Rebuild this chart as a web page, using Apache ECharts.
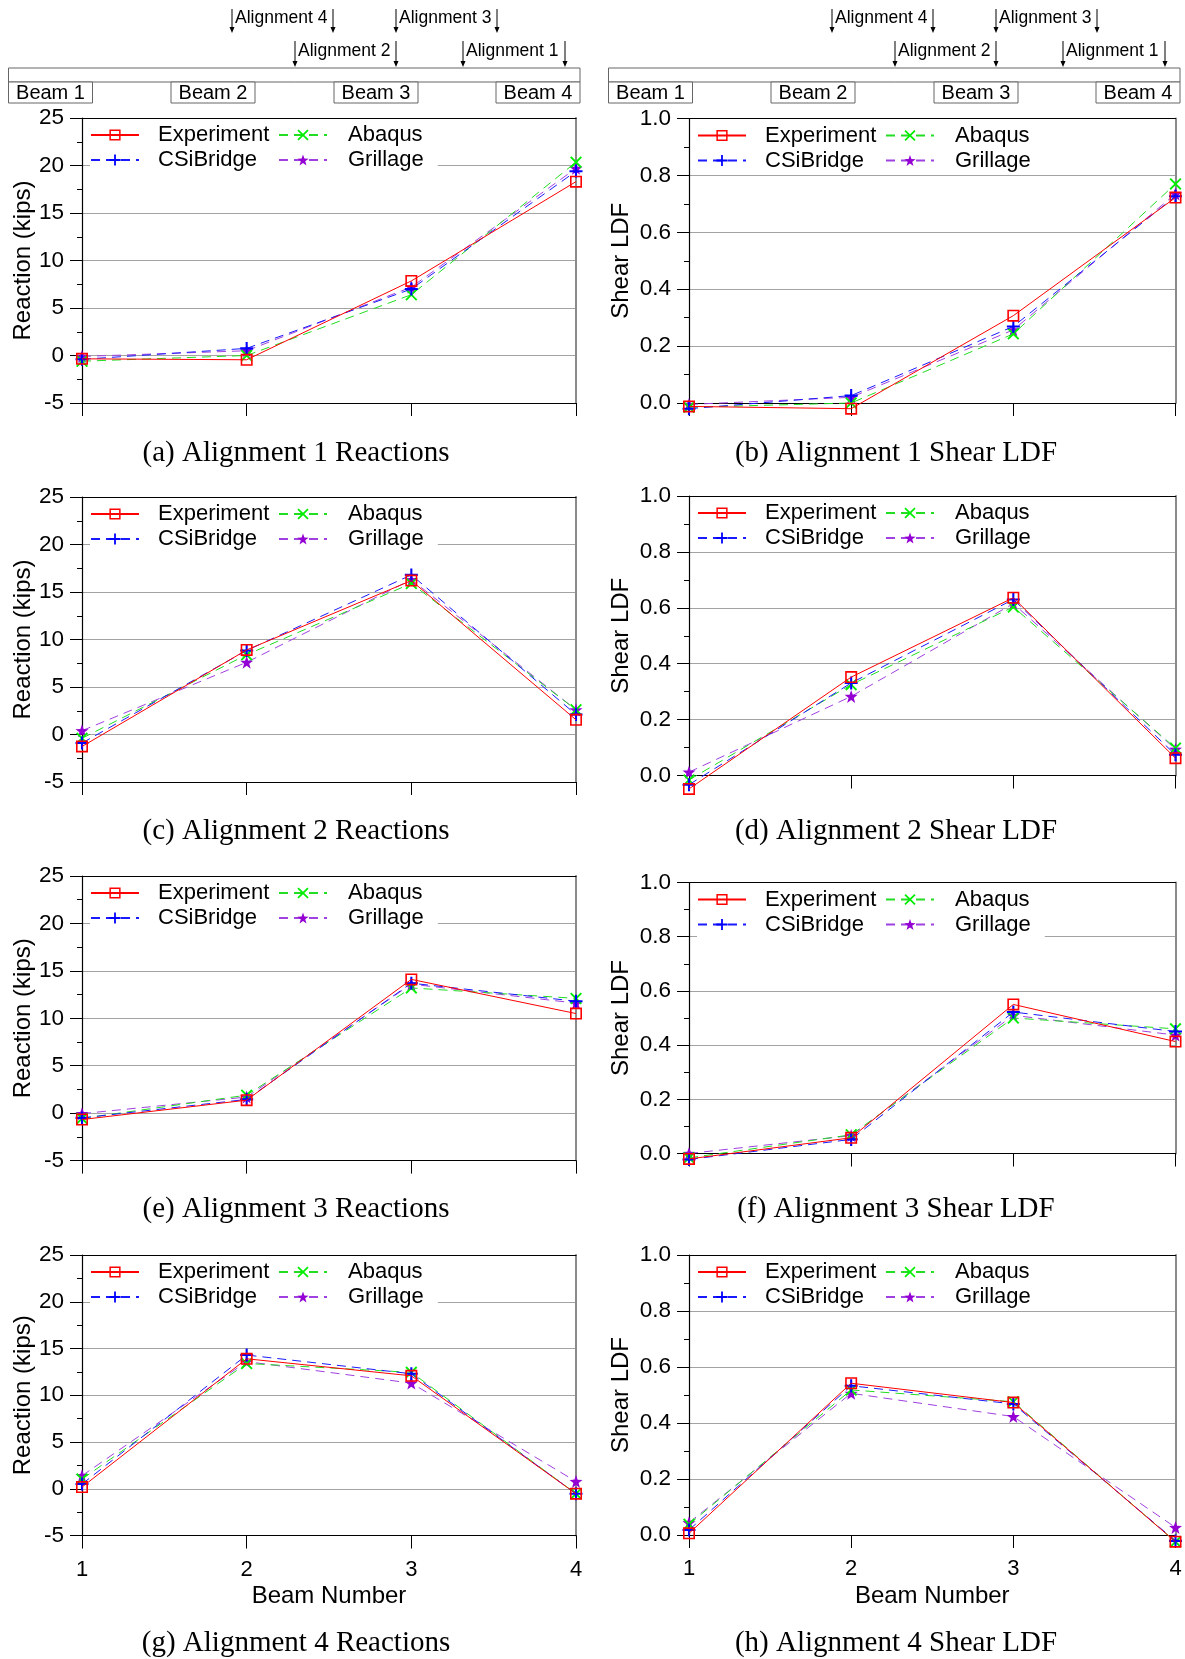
<!DOCTYPE html>
<html>
<head>
<meta charset="utf-8">
<script src="https://cdn.jsdelivr.net/npm/echarts@6/dist/echarts.min.js"></script>
<style>
  html, body { margin: 0; padding: 0; background: #fff; }
  #chart { width: 1185px; height: 1659px; }
</style>
</head>
<body>
<div id="chart"></div>
<script>
// Beam numbers along the x axis
const beams = ['1', '2', '3', '4'];

// Tick values of the two kinds of y axes
const reactionTicks = [-5, 0, 5, 10, 15, 20, 25];
const ldfTicks = [0.0, 0.2, 0.4, 0.6, 0.8, 1.0];

// Alignment 1
const a1ReactionExperiment = [-0.35, -0.45, 7.85, 18.3];
const a1ReactionCSiBridge  = [-0.4, 0.75, 7.0, 19.4];
const a1ReactionAbaqus     = [-0.6, 0.0, 6.4, 20.35];
const a1ReactionGrillage   = [-0.1, 0.5, 7.2, 19.7];
const a1LdfExperiment = [-0.012, -0.02, 0.307, 0.722];
const a1LdfCSiBridge  = [-0.02, 0.026, 0.269, 0.727];
const a1LdfAbaqus     = [-0.015, 0.0, 0.243, 0.77];
const a1LdfGrillage   = [-0.005, 0.02, 0.257, 0.735];

// Alignment 2
const a2ReactionExperiment = [-1.26, 8.9, 16.2, 1.55];
const a2ReactionCSiBridge  = [-0.9, 8.85, 16.8, 2.1];
const a2ReactionAbaqus     = [-0.4, 8.4, 15.9, 2.6];
const a2ReactionGrillage   = [0.4, 7.6, 16.3, 2.6];
const a2LdfExperiment = [-0.048, 0.352, 0.636, 0.062];
const a2LdfCSiBridge  = [-0.033, 0.331, 0.63, 0.074];
const a2LdfAbaqus     = [-0.016, 0.325, 0.603, 0.098];
const a2LdfGrillage   = [0.012, 0.283, 0.615, 0.094];

// Alignment 3
const a3ReactionExperiment = [-0.67, 1.37, 14.1, 10.5];
const a3ReactionCSiBridge  = [-0.5, 1.45, 13.7, 11.8];
const a3ReactionAbaqus     = [-0.55, 1.9, 13.2, 12.1];
const a3ReactionGrillage   = [-0.05, 1.7, 13.6, 11.6];
const a3LdfExperiment = [-0.02, 0.058, 0.55, 0.413];
const a3LdfCSiBridge  = [-0.022, 0.052, 0.522, 0.45];
const a3LdfAbaqus     = [-0.016, 0.069, 0.5, 0.46];
const a3LdfGrillage   = [0.0, 0.066, 0.51, 0.437];

// Alignment 4
const a4ReactionExperiment = [0.18, 13.9, 12.08, -0.53];
const a4ReactionCSiBridge  = [0.5, 14.3, 12.3, -0.53];
const a4ReactionAbaqus     = [1.03, 13.4, 12.45, -0.53];
const a4ReactionGrillage   = [1.39, 13.6, 11.3, 0.78];
const a4LdfExperiment = [0.006, 0.542, 0.473, -0.024];
const a4LdfCSiBridge  = [0.018, 0.533, 0.468, -0.021];
const a4LdfAbaqus     = [0.038, 0.518, 0.476, -0.024];
const a4LdfGrillage   = [0.044, 0.506, 0.423, 0.027];

const SANS = "'Liberation Sans', Arial, sans-serif";
const SERIF = "'Liberation Serif', 'Times New Roman', serif";

// Marker shapes
const SYM_SQUARE = 'path://M0,0H12V12H0Z M1.6,1.6V10.4H10.4V1.6Z';
const SYM_PLUS = 'path://M4.2,0H5.8V4.2H10V5.8H5.8V10H4.2V5.8H0V4.2H4.2Z';
const SYM_CROSS = 'path://M0,1.1L1.1,0L5,3.9L8.9,0L10,1.1L6.1,5L10,8.9L8.9,10L5,6.1L1.1,10L0,8.9L3.9,5Z';
const SYM_STAR = 'path://M5,0L6.18,3.38L9.76,3.45L6.9,5.62L7.94,9.05L5,7L2.06,9.05L3.1,5.62L0.24,3.45L3.82,3.38Z';

const seriesStyle = {
  Experiment: { marker: '#ff0000', line: '#ff0000', dash: 'solid', symbol: SYM_SQUARE, size: 12, z: 5 },
  CSiBridge:  { marker: '#0000ff', line: '#1a1aff', dash: [9, 6], symbol: SYM_PLUS, size: 13, z: 4 },
  Abaqus:     { marker: '#00ee00', line: '#22dd22', dash: [9, 6], symbol: SYM_CROSS, size: 12, z: 3 },
  Grillage:   { marker: '#9400d3', line: '#a040e0', dash: [9, 6], symbol: SYM_STAR, size: 13, z: 2 }
};
const seriesOrder = ['Grillage', 'Abaqus', 'CSiBridge', 'Experiment'];

const LEFT_COL = { left: 82, width: 494, captionX: 296 };
const RIGHT_COL = { left: 689, width: 486.5, captionX: 896 };

const panels = [
  { kind: 'reaction', col: LEFT_COL,  top: 118, height: 285, caption: '(a) Alignment 1 Reactions', captionY: 453,
    values: { Experiment: a1ReactionExperiment, CSiBridge: a1ReactionCSiBridge, Abaqus: a1ReactionAbaqus, Grillage: a1ReactionGrillage } },
  { kind: 'ldf', col: RIGHT_COL, top: 118.5, height: 284.5, caption: '(b) Alignment 1 Shear LDF', captionY: 453,
    values: { Experiment: a1LdfExperiment, CSiBridge: a1LdfCSiBridge, Abaqus: a1LdfAbaqus, Grillage: a1LdfGrillage } },
  { kind: 'reaction', col: LEFT_COL,  top: 497, height: 285, caption: '(c) Alignment 2 Reactions', captionY: 831.5,
    values: { Experiment: a2ReactionExperiment, CSiBridge: a2ReactionCSiBridge, Abaqus: a2ReactionAbaqus, Grillage: a2ReactionGrillage } },
  { kind: 'ldf', col: RIGHT_COL, top: 496, height: 279.5, caption: '(d) Alignment 2 Shear LDF', captionY: 831.5,
    values: { Experiment: a2LdfExperiment, CSiBridge: a2LdfCSiBridge, Abaqus: a2LdfAbaqus, Grillage: a2LdfGrillage } },
  { kind: 'reaction', col: LEFT_COL,  top: 876, height: 284.6, caption: '(e) Alignment 3 Reactions', captionY: 1209,
    values: { Experiment: a3ReactionExperiment, CSiBridge: a3ReactionCSiBridge, Abaqus: a3ReactionAbaqus, Grillage: a3ReactionGrillage } },
  { kind: 'ldf', col: RIGHT_COL, top: 882.5, height: 271, caption: '(f) Alignment 3 Shear LDF', captionY: 1209,
    values: { Experiment: a3LdfExperiment, CSiBridge: a3LdfCSiBridge, Abaqus: a3LdfAbaqus, Grillage: a3LdfGrillage } },
  { kind: 'reaction', col: LEFT_COL,  top: 1255, height: 280.5, caption: '(g) Alignment 4 Reactions', captionY: 1643, bottomRow: true,
    values: { Experiment: a4ReactionExperiment, CSiBridge: a4ReactionCSiBridge, Abaqus: a4ReactionAbaqus, Grillage: a4ReactionGrillage } },
  { kind: 'ldf', col: RIGHT_COL, top: 1255, height: 280, caption: '(h) Alignment 4 Shear LDF', captionY: 1643, bottomRow: true,
    values: { Experiment: a4LdfExperiment, CSiBridge: a4LdfCSiBridge, Abaqus: a4LdfAbaqus, Grillage: a4LdfGrillage } }
];

const grid = [], xAxis = [], yAxis = [], series = [], legend = [], graphic = [];

panels.forEach((p, i) => {
  const ticks = p.kind === 'reaction' ? reactionTicks : ldfTicks;
  const yMin = ticks[0], yMax = ticks[ticks.length - 1];
  const yStep = +(ticks[1] - ticks[0]).toFixed(6);
  const isLdf = p.kind === 'ldf';

  grid.push({ left: p.col.left, top: p.top, width: p.col.width, height: p.height, outerBoundsMode: 'none', show: false });

  // bottom category axis
  xAxis.push({
    type: 'category', gridIndex: i, data: beams, boundaryGap: false, position: 'bottom',
    axisLine: { show: true, onZero: false, lineStyle: { color: '#000', width: 1.2 } },
    axisTick: { show: true, inside: false, length: 13, lineStyle: { color: '#000', width: 1 } },
    axisLabel: { show: !!p.bottomRow, margin: 23, fontSize: 22, fontFamily: SANS, color: '#000' },
    splitLine: { show: false },
    name: p.bottomRow ? 'Beam Number' : '', nameLocation: 'middle', nameGap: 49,
    nameTextStyle: { fontSize: 24, fontFamily: SANS, color: '#000' }
  });
  // top frame line
  xAxis.push({
    type: 'category', gridIndex: i, data: beams, boundaryGap: false, position: 'top',
    axisLine: { show: true, onZero: false, lineStyle: { color: '#000', width: 1.2 } },
    axisTick: { show: false }, axisLabel: { show: false }, splitLine: { show: false }
  });
  // left value axis
  yAxis.push({
    type: 'value', gridIndex: i, min: yMin, max: yMax, interval: yStep, position: 'left',
    axisLine: { show: true, onZero: false, lineStyle: { color: '#000', width: 1.2 } },
    axisTick: { show: true, inside: false, length: 12, lineStyle: { color: '#000', width: 1 } },
    minorTick: { show: true, splitNumber: 2, length: 5, lineStyle: { color: '#000', width: 1 } },
    axisLabel: { margin: 18, fontSize: 22.5, fontFamily: SANS, color: '#000',
                 formatter: v => isLdf ? v.toFixed(1) : String(v) },
    splitLine: { show: true, lineStyle: { color: '#a3a3a3', width: 1.2 } },
    minorSplitLine: { show: false },
    name: isLdf ? 'Shear LDF' : 'Reaction (kips)', nameLocation: 'middle', nameGap: isLdf ? 56 : 47,
    nameTextStyle: { fontSize: 24, fontFamily: SANS, color: '#000' }
  });
  // right frame line
  yAxis.push({
    type: 'value', gridIndex: i, min: yMin, max: yMax, interval: yStep, position: 'right',
    axisLine: { show: true, onZero: false, lineStyle: { color: '#8a8a8a', width: 2 } },
    axisTick: { show: false }, axisLabel: { show: false }, splitLine: { show: false }
  });

  seriesOrder.forEach(name => {
    const st = seriesStyle[name];
    series.push({
      type: 'line', name, xAxisIndex: 2 * i, yAxisIndex: 2 * i,
      data: p.values[name], clip: false, z: st.z,
      symbol: st.symbol, symbolSize: st.size, showAllSymbol: true,
      itemStyle: { color: st.marker },
      lineStyle: { color: st.line, width: 1, type: st.dash },
      emphasis: { disabled: true }
    });
  });

  const legendCommon = {
    orient: 'vertical', top: p.top + 6, itemWidth: 48, itemHeight: 14, itemGap: 3,
    padding: [0, 14, 3, 0], backgroundColor: '#fff', selectedMode: false, z: 20
  };
  const legendText = pad => ({ fontSize: 22, fontFamily: SANS, color: '#000', lineHeight: 22, padding: [0, 0, 0, pad] });
  legend.push(Object.assign({}, legendCommon, { left: p.col.left + 8, data: ['Experiment', 'CSiBridge'], textStyle: legendText(14) }));
  legend.push(Object.assign({}, legendCommon, { left: p.col.left + 196, data: ['Abaqus', 'Grillage'], textStyle: legendText(16) }));

  graphic.push({
    type: 'text', x: p.col.captionX, y: p.captionY, silent: true,
    style: { text: p.caption, font: '29px ' + SERIF, fill: '#000', textAlign: 'center', textVerticalAlign: 'middle' }
  });
});

// Cross-section sketch above each column: deck, girders and load alignments
const beamBoxX = [8.5, 171, 334, 496];
const alignments = [
  { label: 'Alignment 4', x1: 232, x2: 333, row: 0 },
  { label: 'Alignment 3', x1: 396, x2: 497, row: 0 },
  { label: 'Alignment 2', x1: 295, x2: 396, row: 1 },
  { label: 'Alignment 1', x1: 463, x2: 565, row: 1 }
];
function addSketch(dx) {
  graphic.push({ type: 'rect', silent: true, shape: { x: 8.5 + dx, y: 68, width: 571.5, height: 14 },
                 style: { fill: '#fff', stroke: '#666', lineWidth: 1 } });
  beamBoxX.forEach((bx, k) => {
    graphic.push({ type: 'rect', silent: true, shape: { x: bx + dx, y: 82, width: 84, height: 21 },
                   style: { fill: '#fff', stroke: '#666', lineWidth: 1 } });
    graphic.push({ type: 'text', silent: true, x: bx + dx + 42, y: 93,
                   style: { text: 'Beam ' + (k + 1), font: '20px ' + SANS, fill: '#000', textAlign: 'center', textVerticalAlign: 'middle' } });
  });
  alignments.forEach(a => {
    const y1 = a.row === 0 ? 9 : 41, y2 = a.row === 0 ? 33 : 67;
    [a.x1, a.x2].forEach(ax => {
      graphic.push({ type: 'line', silent: true, shape: { x1: ax + dx, y1: y1, x2: ax + dx, y2: y2 - 5 },
                     style: { stroke: '#000', lineWidth: 1 } });
      graphic.push({ type: 'polygon', silent: true, shape: { points: [[ax + dx - 2.5, y2 - 6], [ax + dx + 2.5, y2 - 6], [ax + dx, y2]] },
                     style: { fill: '#000' } });
    });
    graphic.push({ type: 'text', silent: true, x: a.x1 + dx + 3, y: (y1 + y2) / 2 - 3,
                   style: { text: a.label, font: '17.5px ' + SANS, fill: '#000', textAlign: 'left', textVerticalAlign: 'middle' } });
  });
}
addSketch(0);
addSketch(600);

const chart = echarts.init(document.getElementById('chart'), null, { renderer: 'canvas' });
chart.setOption({
  animation: false,
  backgroundColor: '#fff',
  grid, xAxis, yAxis, series, legend, graphic
});
</script>
</body>
</html>
